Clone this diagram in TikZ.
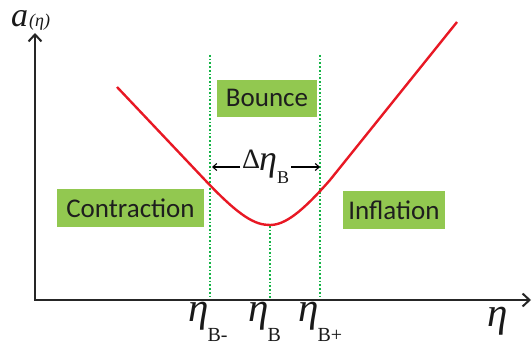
\documentclass[tikz,border=0pt]{standalone}
\usepackage{fontspec}
\setmainfont{Liberation Serif}
\newfontfamily\boxfont{Carlito}
\usetikzlibrary{arrows.meta}
\definecolor{boxgreen}{RGB}{146,200,80}
\definecolor{dotgreen}{RGB}{20,180,70}
\definecolor{curvered}{RGB}{232,24,36}
\definecolor{txt}{RGB}{30,30,30}
\tikzset{
  axis/.style={line width=2.4pt, draw=black!85, -{Straight Barb[length=7pt,width=13pt,line width=2pt]}},
  guide/.style={dotgreen, line width=1.7pt, dash pattern=on 1.7pt off 2pt},
  regionbox/.style={fill=boxgreen, text=txt, font=\boxfont\fontsize{27}{27}\selectfont, inner sep=0pt, anchor=center},
  etalabel/.style={font=\fontsize{41}{41}\selectfont\itshape, text=black!90, inner sep=0pt, anchor=base west},
  subl/.style={}
}
\newcommand{\subB}[1]{\raisebox{-20pt}{\upshape\fontsize{20}{20}\selectfont #1}}
\begin{document}
\begin{tikzpicture}[x=1pt,y=-1pt]
\useasboundingbox (0,0) rectangle (532,345);
% axes
\coordinate (O) at (35,300);
\coordinate (Ytop) at (35,33);
\coordinate (Xend) at (531,300);
\draw[axis] (O) -- (Ytop);
\draw[axis] ([xshift=-1.2pt]O) -- (Xend);
% guides
\coordinate (gl1) at (210,55); \coordinate (gl2) at (210,298);
\coordinate (gm1) at (270,226); \coordinate (gm2) at (270,298);
\coordinate (gr1) at (320,55); \coordinate (gr2) at (320,298);
\draw[guide] (gl1) -- (gl2);
\draw[guide] (gm1) -- (gm2);
\draw[guide] (gr1) -- (gr2);
% curve
\coordinate (c0) at (117,87);
\coordinate (c1) at (205,180);
\coordinate (cm) at (270,225);
\coordinate (c2) at (330,180);
\coordinate (c3) at (457,22);
\draw[curvered, line width=2.4pt, line join=round] (c0) -- (c1) .. controls (240,217) and (255,225) .. (cm) .. controls (285,225) and (302,212) .. (c2) -- (c3);
% boxes
\node[regionbox, minimum width=100pt, minimum height=37pt] (bounce) at (267,98) {Bounce};
\node[regionbox, minimum width=147pt, minimum height=38pt] (contr) at (130.5,208) {Contraction};
\node[regionbox, minimum width=102pt, minimum height=38pt] (infl) at (394,210) {Inflation};
% delta eta
\node[inner sep=0pt, text=black!90, anchor=base west] (delta) at (242,168) {\fontsize{28}{28}\selectfont Δ\kern-1pt\raisebox{-2pt}{\fontsize{36}{36}\selectfont\itshape η}\raisebox{-15pt}{\fontsize{18}{18}\selectfont B}};
\coordinate (dl) at (212,167);
\coordinate (dr) at (320,167);
\draw[line width=1.1pt, -{Straight Barb[length=4pt,width=7pt]}] ([xshift=-2pt]delta.west |- dl) -- (dl);
\draw[line width=1.1pt, -{Straight Barb[length=4pt,width=7pt]}] ([xshift=2pt]delta.east |- dr) -- (dr);
% bottom labels
\node[etalabel] (eBm) at (188,321) {η\kern-1pt\subB{B-}};
\node[etalabel] (eB) at (248,321) {η\kern-1pt\subB{B}};
\node[etalabel] (eBp) at (298,321) {η\kern-1pt\subB{B+}};
\node[etalabel] (eta) at (487,326) {η};
% y label
\node[inner sep=0pt, text=black!90, anchor=base west] (alab) at (11,27) {\fontsize{34}{34}\selectfont\itshape a\kern1pt{\fontsize{18}{18}\selectfont(η)}};
\end{tikzpicture}
\end{document}
